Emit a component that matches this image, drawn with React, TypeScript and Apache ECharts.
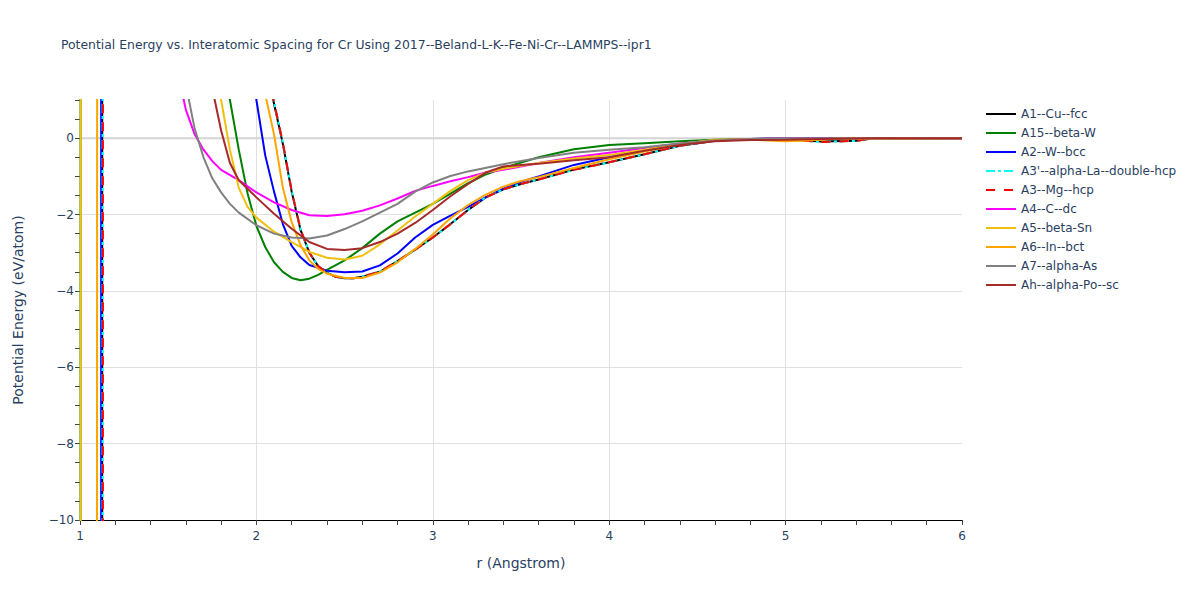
import React, { useEffect, useRef } from "react";
import * as echarts from "echarts";

const TITLE =
  "Potential Energy vs. Interatomic Spacing for Cr Using 2017--Beland-L-K--Fe-Ni-Cr--LAMMPS--ipr1";
const X_NAME = "r (Angstrom)";
const Y_NAME = "Potential Energy (eV/atom)";

const seriesNames = [
  "A1--Cu--fcc",
  "A15--beta-W",
  "A2--W--bcc",
  "A3'--alpha-La--double-hcp",
  "A3--Mg--hcp",
  "A4--C--dc",
  "A5--beta-Sn",
  "A6--In--bct",
  "A7--alpha-As",
  "Ah--alpha-Po--sc",
];

// [r (Angstrom), energy (eV/atom)]
const a1CuFcc: number[][] = [
  [1.0, -300], [1.124, -300], [1.128, 300], [1.5, 50], [2.0, 3.2], [2.05, 2.0], [2.1, 0.9],
  [2.15, -0.15], [2.2, -1.4], [2.25, -2.4], [2.3, -3.0], [2.35, -3.35], [2.4, -3.52],
  [2.45, -3.63], [2.5, -3.67], [2.55, -3.67], [2.6, -3.63], [2.7, -3.5], [2.8, -3.22],
  [2.9, -2.92], [3.0, -2.6], [3.1, -2.25], [3.2, -1.88], [3.3, -1.55], [3.4, -1.34],
  [3.5, -1.2], [3.6, -1.08], [3.8, -0.82], [4.0, -0.63], [4.2, -0.42], [4.4, -0.2],
  [4.6, -0.07], [4.8, -0.02], [5.0, -0.03], [5.2, -0.09], [5.4, -0.07], [5.5, 0], [6.0, 0],
];
const a15BetaW: number[][] = [
  [1.0, -300], [1.006, 300], [1.5, 15], [1.8, 2.3], [1.85, 1.0], [1.9, -0.3], [1.95, -1.45],
  [2.0, -2.3], [2.05, -2.85], [2.1, -3.25], [2.15, -3.5], [2.2, -3.66], [2.25, -3.72],
  [2.3, -3.68], [2.35, -3.58], [2.4, -3.45], [2.5, -3.2], [2.6, -2.88], [2.7, -2.5],
  [2.8, -2.18], [2.9, -1.95], [3.0, -1.72], [3.1, -1.45], [3.2, -1.18], [3.3, -0.95],
  [3.4, -0.78], [3.6, -0.5], [3.8, -0.29], [4.0, -0.18], [4.2, -0.13], [4.4, -0.08],
  [4.6, -0.04], [4.8, -0.02], [5.0, -0.01], [6.0, 0],
];
const a2WBcc: number[][] = [
  [1.0, -300], [1.118, -300], [1.122, 300], [1.5, 40], [1.95, 2.5], [2.0, 1.0], [2.05, -0.45],
  [2.1, -1.4], [2.15, -2.25], [2.2, -2.82], [2.25, -3.12], [2.3, -3.32], [2.4, -3.47],
  [2.5, -3.51], [2.6, -3.49], [2.7, -3.33], [2.8, -3.02], [2.9, -2.6], [3.0, -2.27],
  [3.1, -2.03], [3.2, -1.8], [3.3, -1.55], [3.4, -1.32], [3.5, -1.14], [3.6, -1.0],
  [3.8, -0.7], [4.0, -0.5], [4.2, -0.33], [4.4, -0.17], [4.6, -0.06], [4.8, -0.02],
  [5.0, -0.01], [5.5, 0], [6.0, 0],
];
const a3pAlphaLa: number[][] = [
  [1.0, -300], [1.126, -300], [1.13, 300], [1.5, 50], [2.0, 3.25], [2.05, 2.05], [2.1, 0.95],
  [2.15, -0.12], [2.2, -1.38], [2.25, -2.38], [2.3, -3.0], [2.35, -3.35], [2.4, -3.53],
  [2.45, -3.63], [2.5, -3.67], [2.55, -3.67], [2.6, -3.63], [2.7, -3.49], [2.8, -3.22],
  [2.9, -2.92], [3.0, -2.6], [3.1, -2.25], [3.2, -1.88], [3.3, -1.55], [3.4, -1.34],
  [3.5, -1.2], [3.6, -1.08], [3.8, -0.83], [4.0, -0.63], [4.2, -0.42], [4.4, -0.2],
  [4.6, -0.07], [4.8, -0.02], [5.0, -0.03], [5.2, -0.1], [5.4, -0.07], [5.5, 0], [6.0, 0],
];
const a3MgHcp: number[][] = [
  [1.0, -300], [1.128, -300], [1.132, 300], [1.5, 50], [2.0, 3.25], [2.05, 2.05], [2.1, 0.95],
  [2.15, -0.12], [2.2, -1.38], [2.25, -2.38], [2.3, -3.0], [2.35, -3.35], [2.4, -3.53],
  [2.45, -3.63], [2.5, -3.67], [2.55, -3.67], [2.6, -3.63], [2.7, -3.49], [2.8, -3.22],
  [2.9, -2.92], [3.0, -2.6], [3.1, -2.25], [3.2, -1.88], [3.3, -1.55], [3.4, -1.34],
  [3.5, -1.2], [3.6, -1.08], [3.8, -0.83], [4.0, -0.63], [4.2, -0.42], [4.4, -0.2],
  [4.6, -0.07], [4.8, -0.02], [5.0, -0.03], [5.2, -0.1], [5.4, -0.07], [5.5, 0], [6.0, 0],
];
const a4CDc: number[][] = [
  [1.0, 60], [1.3, 12], [1.5, 3.5], [1.55, 1.8], [1.6, 0.75], [1.65, 0.1], [1.7, -0.3],
  [1.75, -0.6], [1.8, -0.83], [1.9, -1.1], [2.0, -1.42], [2.1, -1.68], [2.2, -1.88],
  [2.3, -2.02], [2.4, -2.04], [2.5, -1.99], [2.6, -1.9], [2.7, -1.76], [2.8, -1.58],
  [2.9, -1.38], [3.0, -1.25], [3.1, -1.13], [3.2, -1.02], [3.3, -0.9], [3.4, -0.83],
  [3.5, -0.74], [3.6, -0.65], [3.8, -0.5], [4.0, -0.38], [4.2, -0.26], [4.4, -0.14],
  [4.6, -0.06], [4.8, -0.02], [5.0, 0], [6.0, 0],
];
const a5BetaSn: number[][] = [
  [1.0, -300], [1.008, 300], [1.5, 12], [1.75, 2.2], [1.8, 1.0], [1.85, -0.3], [1.9, -1.3],
  [1.95, -1.8], [2.0, -2.08], [2.1, -2.45], [2.2, -2.72], [2.3, -2.98], [2.4, -3.13],
  [2.5, -3.18], [2.6, -3.08], [2.7, -2.78], [2.8, -2.42], [2.9, -2.05], [3.0, -1.72],
  [3.1, -1.38], [3.2, -1.1], [3.3, -0.9], [3.4, -0.8], [3.5, -0.72], [3.6, -0.65],
  [3.8, -0.53], [4.0, -0.44], [4.2, -0.3], [4.4, -0.15], [4.6, -0.04], [4.8, -0.03],
  [5.0, -0.07], [5.1, -0.06], [5.3, -0.01], [6.0, 0],
];
const a6InBct: number[][] = [
  [1.0, -300], [1.094, -40], [1.1, 40], [1.5, 40], [2.0, 2.6], [2.05, 1.15], [2.1, 0.1],
  [2.15, -1.3], [2.2, -2.2], [2.25, -2.8], [2.3, -3.2], [2.35, -3.42], [2.4, -3.55],
  [2.5, -3.66], [2.6, -3.66], [2.7, -3.52], [2.8, -3.25], [2.9, -2.9], [3.0, -2.52],
  [3.1, -2.1], [3.2, -1.75], [3.3, -1.48], [3.4, -1.27], [3.5, -1.12], [3.6, -1.02],
  [3.8, -0.78], [4.0, -0.55], [4.2, -0.35], [4.4, -0.16], [4.6, -0.05], [4.8, -0.04],
  [5.0, -0.08], [5.1, -0.06], [5.3, -0.01], [6.0, 0],
];
const a7AlphaAs: number[][] = [
  [1.0, 60], [1.3, 12], [1.5, 3.5], [1.6, 1.4], [1.65, 0.25], [1.7, -0.5], [1.75, -1.05],
  [1.8, -1.42], [1.85, -1.72], [1.9, -1.95], [2.0, -2.28], [2.1, -2.5], [2.2, -2.6],
  [2.3, -2.63], [2.4, -2.55], [2.5, -2.38], [2.6, -2.18], [2.7, -1.95], [2.8, -1.72],
  [2.9, -1.4], [3.0, -1.16], [3.1, -0.99], [3.2, -0.87], [3.4, -0.68], [3.6, -0.52],
  [3.8, -0.38], [4.0, -0.3], [4.2, -0.24], [4.4, -0.14], [4.6, -0.06], [4.8, -0.02],
  [5.0, 0], [6.0, 0],
];
const ahAlphaPo: number[][] = [
  [1.0, 60], [1.5, 8], [1.7, 2.5], [1.75, 1.3], [1.8, 0.2], [1.85, -0.65], [1.9, -1.1],
  [2.0, -1.55], [2.1, -1.98], [2.2, -2.37], [2.3, -2.72], [2.4, -2.9], [2.5, -2.93],
  [2.6, -2.88], [2.7, -2.72], [2.8, -2.5], [2.9, -2.22], [3.0, -1.88], [3.1, -1.52],
  [3.2, -1.2], [3.3, -0.9], [3.4, -0.74], [3.5, -0.7], [3.6, -0.67], [3.8, -0.58],
  [4.0, -0.5], [4.2, -0.33], [4.4, -0.18], [4.6, -0.08], [4.8, -0.05], [5.0, -0.04],
  [5.2, -0.02], [5.5, 0], [6.0, 0],
];
const zeroLine: number[][] = [[1, 0], [6, 0]];

const seriesData = [
  a1CuFcc, a15BetaW, a2WBcc, a3pAlphaLa, a3MgHcp, a4CDc, a5BetaSn, a6InBct, a7AlphaAs, ahAlphaPo,
];
const seriesColors = [
  "#000000", "#008000", "#0000ff", "#00ffff", "#ff0000", "#ff00ff", "#f0c010", "#ffa500",
  "#808080", "#a52a2a",
];
const seriesDash: (string | number[])[] = [
  "solid", "solid", "solid", [9, 3, 3, 3], [9, 9], "solid", "solid", "solid", "solid", "solid",
];

const FONT = "'DejaVu Sans', Verdana, sans-serif";
const TEXT = "#2a3f5f";

const fmtNum = (v: number) => String(v).replace("-", "\u2212");

export default function App() {
  const ref = useRef<HTMLDivElement>(null);
  useEffect(() => {
    if (!ref.current) return;
    const chart = echarts.init(ref.current, undefined, { renderer: "svg" });
    const lines = seriesNames.map((name, i) => ({
      name,
      type: "line",
      data: seriesData[i],
      showSymbol: false,
      symbol: "none",
      smooth: false,
      clip: true,
      lineStyle: { color: seriesColors[i], width: 2, type: seriesDash[i] },
      itemStyle: { color: seriesColors[i] },
      z: 3,
    }));
    const axisCommon = {
      type: "value",
      nameLocation: "middle",
      nameTextStyle: { fontFamily: FONT, fontSize: 14, color: TEXT },
      axisLine: { show: true, onZero: false, lineStyle: { color: "#000", width: 1 } },
      axisTick: { show: true, inside: false, length: 5, lineStyle: { color: "#444" } },
      axisLabel: { fontFamily: FONT, fontSize: 12, color: TEXT, formatter: fmtNum },
      splitLine: { show: true, showMinLine: false, showMaxLine: false, lineStyle: { color: "#e0e0e0", width: 1 } },
    };
    chart.setOption({
      animation: false,
      backgroundColor: "#ffffff",
      textStyle: { fontFamily: FONT },
      title: {
        text: TITLE,
        left: 61,
        top: 38,
        padding: 0,
        textStyle: { fontFamily: FONT, fontSize: 12.4, fontWeight: "normal", color: TEXT },
      },
      legend: {
        orient: "vertical",
        left: 985,
        top: 108,
        padding: 0,
        itemWidth: 30,
        itemHeight: 12,
        itemGap: 7,
        data: seriesNames,
        itemStyle: { opacity: 0 },
        textStyle: { fontFamily: FONT, fontSize: 12, color: TEXT },
      },
      grid: { left: 80, right: 238, top: 100, bottom: 80, containLabel: false },
      xAxis: {
        ...axisCommon,
        min: 1,
        max: 6,
        interval: 1,
        name: X_NAME,
        nameGap: 36,
        minorTick: { show: true, splitNumber: 5, length: 5, lineStyle: { color: "#444" } },
        axisLabel: { ...axisCommon.axisLabel, margin: 10 },
      },
      yAxis: {
        ...axisCommon,
        min: -10,
        max: 1,
        interval: 2,
        name: Y_NAME,
        nameGap: 55,
        minorTick: { show: true, splitNumber: 4, length: 5, lineStyle: { color: "#444" } },
        axisLabel: { ...axisCommon.axisLabel, margin: 6, showMaxLabel: false },
      },
      series: [
        {
          name: "zero",
          type: "line",
          data: zeroLine,
          symbol: "none",
          silent: true,
          lineStyle: { color: "#d4d4d4", width: 2 },
          z: 1,
        },
        ...lines,
      ],
    });
    return () => chart.dispose();
  }, []);
  return <div ref={ref} style={{ width: 1200, height: 600, position: "absolute", left: 0, top: 0 }} />;
}
